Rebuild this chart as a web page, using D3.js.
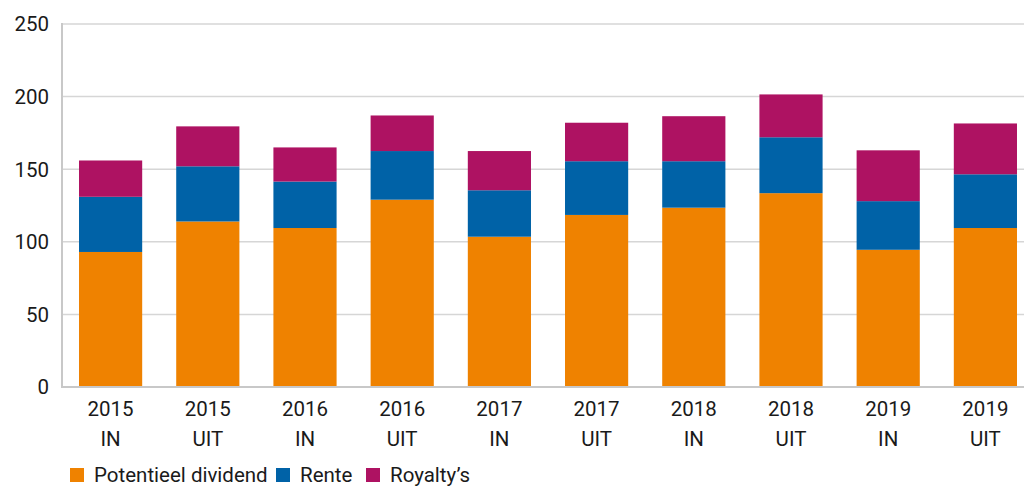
<!DOCTYPE html>
<html>
<head>
<meta charset="utf-8">
<script src="https://cdn.jsdelivr.net/npm/d3@7"></script>
<style>
  body { margin: 0; background: #fff; }
  svg { display: block; font-family: Roboto, "Noto Sans", sans-serif; }
</style>
</head>
<body>
<svg width="1024" height="486"></svg>
<script>
const years = ["2015", "2015", "2016", "2016", "2017", "2017", "2018", "2018", "2019", "2019"];
const flows = ["IN", "UIT", "IN", "UIT", "IN", "UIT", "IN", "UIT", "IN", "UIT"];
const dividend = [93, 114, 109.5, 129, 103.5, 118.5, 123.5, 133.5, 94.5, 109.5];
const rente = [38, 38, 32, 33.5, 32, 37, 32, 38.5, 33.5, 37];
const royalty = [25, 27.5, 23.5, 24.5, 27, 26.5, 31, 29.5, 35, 35];
const seriesNames = ["Potentieel dividend", "Rente", "Royalty\u2019s"];
const colors = ["#ef8200", "#0062a7", "#ae1262"];
const yTicks = [0, 50, 100, 150, 200, 250];

const svg = d3.select("svg");
const mLeft = 62, mRight = 1034, mTop = 24, mBottom = 387;

const rows = years.map((y, i) => ({
  key: i, year: y, flow: flows[i],
  s0: dividend[i], s1: rente[i], s2: royalty[i]
}));

const x = d3.scaleBand().domain(rows.map(d => d.key)).range([mLeft, mRight]).paddingInner(0.35).paddingOuter(0.175);
const yScale = d3.scaleLinear().domain([0, 250]).range([mBottom, mTop]);

// gridlines
svg.append("g")
  .selectAll("line")
  .data(yTicks.filter(t => t > 0))
  .join("line")
  .attr("x1", mLeft).attr("x2", 1024)
  .attr("y1", d => yScale(d)).attr("y2", d => yScale(d))
  .attr("stroke", "#d6d6d6").attr("stroke-width", 1.5);

// y labels
svg.append("g")
  .selectAll("text")
  .data(yTicks)
  .join("text")
  .attr("x", 49)
  .attr("y", d => yScale(d))
  .attr("dy", "0.36em")
  .attr("text-anchor", "end")
  .attr("font-size", 20.5)
  .attr("fill", "#1a1a1a")
  .text(d => d);

// stacked bars
const stack = d3.stack().keys(["s0", "s1", "s2"]);
const layers = stack(rows);

svg.append("g")
  .selectAll("g")
  .data(layers)
  .join("g")
  .attr("fill", (d, i) => colors[i])
  .selectAll("rect")
  .data(d => d)
  .join("rect")
  .attr("x", d => x(d.data.key))
  .attr("width", x.bandwidth())
  .attr("y", d => yScale(d[1]))
  .attr("height", d => yScale(d[0]) - yScale(d[1]));

// axes lines
svg.append("line")
  .attr("x1", mLeft).attr("x2", mLeft)
  .attr("y1", mTop - 1).attr("y2", mBottom + 1)
  .attr("stroke", "#c8c8c8").attr("stroke-width", 2);
svg.append("line")
  .attr("x1", mLeft - 1).attr("x2", 1024)
  .attr("y1", mBottom).attr("y2", mBottom)
  .attr("stroke", "#c8c8c8").attr("stroke-width", 2);

// x labels
const xl = svg.append("g")
  .selectAll("text")
  .data(rows)
  .join("text")
  .attr("text-anchor", "middle")
  .attr("font-size", 20.5)
  .attr("fill", "#1a1a1a");
xl.append("tspan")
  .attr("x", d => x(d.key) + x.bandwidth() / 2)
  .attr("y", 416)
  .text(d => d.year);
xl.append("tspan")
  .attr("x", d => x(d.key) + x.bandwidth() / 2)
  .attr("y", 446)
  .text(d => d.flow);

// legend
const legendX = [70, 276, 366];
const lg = svg.append("g")
  .selectAll("g")
  .data(seriesNames)
  .join("g")
  .attr("transform", (d, i) => "translate(" + legendX[i] + ",468)");
lg.append("rect")
  .attr("width", 14).attr("height", 14)
  .attr("fill", (d, i) => colors[i]);
lg.append("text")
  .attr("x", 24)
  .attr("y", 7)
  .attr("dy", "0.36em")
  .attr("font-size", 20.5)
  .attr("fill", "#1a1a1a")
  .text(d => d);
</script>
</body>
</html>
